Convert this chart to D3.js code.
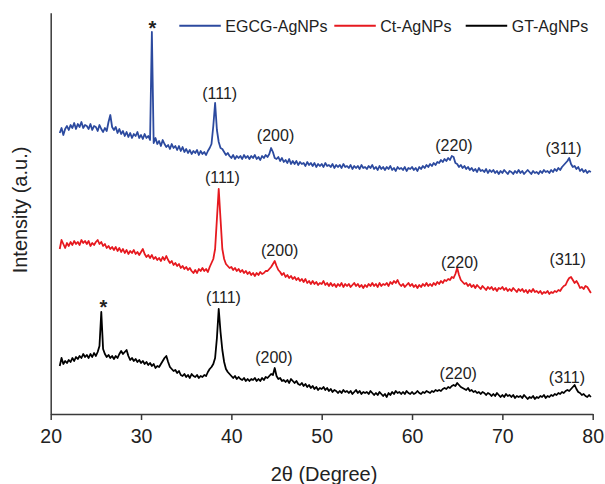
<!DOCTYPE html>
<html>
<head>
<meta charset="utf-8">
<script src="https://cdn.jsdelivr.net/npm/d3@7"></script>
<style>
  body { margin: 0; background: #fff; }
  svg { display: block; font-family: "Liberation Sans", Arial, Helvetica, sans-serif; }
</style>
</head>
<body>
<svg id="chart" width="605" height="484"></svg>
<script>
// XRD scans: intensities sampled from 21.0° to 79.8° (2θ) in 0.2° steps (stacked, arbitrary units)
const thetaStart = 21.0;
const thetaStep = 0.2;

const egcgIntensity = [
  281,286,279,285,288, 284,289,286,291,285, 290,287,292,286,289, 288,285,290,284,288,
  287,283,289,285,282, 286,283,292,299,287, 284,287,281,285,280, 283,278,282,277,281,
  276,280,278,282,276, 279,275,280,276,278, 274,382,271,276,270, 273,268,274,270,267,
  269,265,270,266,268, 264,268,263,267,262, 265,261,264,260,263, 261,264,259,263,260,
  262,259,263,266,270, 288,311,284,272,266, 265,262,259,261,258, 256,259,255,258,256,
  258,255,259,256,258, 255,258,256,259,255, 257,254,258,256,259, 257,260,266,262,256,
  255,257,253,256,252, 254,251,255,250,253, 250,253,249,252,250, 251,248,252,249,251,
  248,251,247,250,248, 250,247,251,248,249, 247,250,246,249,247, 249,246,250,247,248,
  246,249,245,248,246, 248,245,249,246,247, 245,248,246,249,245, 247,244,248,245,247,
  244,247,245,248,244, 246,243,247,245,246, 244,247,243,246,245, 247,244,246,243,247,
  245,248,246,249,247, 250,248,251,249,252, 251,254,252,255,253, 256,254,258,257,251,
  250,247,249,246,248, 245,247,244,246,243, 245,242,246,243,244, 242,245,241,244,242,
  244,241,243,240,243, 241,244,242,240,243, 242,240,243,241,244, 241,243,240,242,244,
  242,240,243,241,242, 240,243,241,244,242, 243,241,244,242,245, 243,246,244,247,249,
  251,253,256,250,247, 248,245,247,243,245, 242,244,241,243,242
];

const ctIntensity = [
  165,174,170,166,171, 168,172,169,173,170, 172,169,174,171,173, 170,173,168,171,169,
  172,174,170,172,168, 170,166,168,165,167, 164,167,163,166,162, 165,161,164,160,163,
  161,164,160,162,159, 162,165,160,157,159, 156,159,155,157,154, 156,153,157,154,158,
  154,151,153,149,151, 148,150,146,148,145, 147,144,146,143,141, 144,141,145,143,146,
  143,145,142,147,151, 155,165,195,225,195, 165,155,150,148,146, 147,144,146,143,145,
  142,144,141,143,140, 142,139,141,138,141, 139,142,140,141,143, 143,145,147,150,153,
  148,144,142,139,141, 137,139,136,138,135, 137,134,136,133,135, 132,135,131,133,130,
  133,130,132,129,131, 130,133,129,131,128, 131,128,130,127,130, 128,131,127,130,128,
  130,127,129,131,128, 130,127,129,126,129, 127,130,128,131,128, 130,127,131,128,130,
  129,131,128,132,130, 133,131,134,130,128, 130,127,129,131,128, 130,127,129,126,129,
  127,130,128,131,128, 130,128,131,129,132, 130,133,131,134,133, 135,134,137,136,140,
  146,139,134,132,130, 131,128,130,127,129, 126,129,127,125,128, 126,124,127,125,127,
  124,126,123,126,125, 127,124,126,123,125, 123,126,124,122,125, 123,125,122,124,121,
  124,122,125,122,123, 121,123,120,122,121, 123,120,122,121,123, 122,124,123,126,128,
  129,133,136,137,134, 131,133,130,126,127, 125,128,127,124,121
];

const gtIntensity = [
  48,56,50,53,51, 54,52,56,53,57, 55,58,56,60,57, 59,56,60,57,61,
  58,62,68,102,65, 60,57,59,56,58, 55,58,56,60,63, 60,62,64,58,54,
  56,53,55,52,54, 51,53,50,52,49, 51,48,50,46,48, 47,50,53,56,58,
  52,47,45,43,44, 41,43,39,38,40, 37,39,36,40,38, 37,39,36,38,37,
  39,38,42,45,47, 50,56,76,105,82, 64,52,45,42,40, 38,36,38,35,37,
  35,34,36,33,35, 33,35,34,36,33, 35,33,36,34,37, 36,38,40,39,46,
  38,35,36,33,34, 32,34,31,35,33, 31,33,30,29,31, 28,30,27,29,26,
  28,25,27,24,26, 25,27,24,26,23, 25,22,24,23,21, 23,21,24,22,23,
  21,23,20,22,24, 21,23,20,22,21, 22,20,23,21,19, 21,19,22,20,18,
  20,17,21,19,22, 20,23,21,22,20, 22,20,23,21,20, 22,20,21,23,21,
  20,22,21,23,22, 21,23,22,24,23, 24,23,25,26,25, 27,26,28,29,28,
  31,29,27,26,25, 24,26,23,24,22, 23,21,22,20,22, 21,19,21,20,18,
  20,18,21,19,17, 19,17,20,18,19, 17,19,16,18,17, 18,16,19,17,15,
  17,16,18,15,17, 16,18,17,19,16, 18,17,19,18,20, 19,21,20,22,21,
  23,24,23,25,27, 29,25,22,21,19, 20,18,17,19,17
];

const seriesNames = ["EGCG-AgNPs", "Ct-AgNPs", "GT-AgNPs"];
const seriesColors = ["#2c4a9f", "#e6191f", "#000000"];
const xTicks = [20, 30, 40, 50, 60, 70, 80];

// Reflection labels: [text, 2θ, baseline level in a.u.]
const egcgPeaks = [["*", 31.27, 378.7], ["(111)", 38.71, 315], ["(200)", 44.89, 273.3], ["(220)", 64.64, 263.3], ["(311)", 76.77, 260]];
const ctPeaks = [["(111)", 39.01, 231.3], ["(200)", 45.35, 158], ["(220)", 65.28, 146.3], ["(311)", 77.23, 148.7]];
const gtPeaks = [["*", 25.82, 100.3], ["(111)", 39.12, 111.3], ["(200)", 44.71, 50.7], ["(220)", 65.12, 35], ["(311)", 77.15, 31.3]];

const svg = d3.select("#chart");
const axisColor = "#3a3a3a";

const x = d3.scaleLinear().domain([20, 80]).range([50.7, 592.7]);
const y = d3.scaleLinear().domain([0, 401.3]).range([414, 12.7]);

const toPoints = arr => arr.map((v, i) => [thetaStart + i * thetaStep, v]);
const series = [egcgIntensity, ctIntensity, gtIntensity].map(toPoints);
const peakSets = [egcgPeaks, ctPeaks, gtPeaks];

// Axes
const xAxis = d3.axisBottom(x).tickValues(xTicks).tickSize(6).tickSizeOuter(0).tickFormat(d3.format("d"));
const gx = svg.append("g").attr("transform", "translate(0,414)").call(xAxis);
gx.select(".domain").attr("stroke", axisColor).attr("stroke-width", 1.5);
gx.selectAll(".tick line").attr("stroke", axisColor).attr("stroke-width", 1.5);
gx.selectAll(".tick text")
  .attr("y", 28.7).attr("dy", null)
  .attr("fill", "#222").style("font-size", "19.5px")
  .style("font-family", "'Liberation Sans', Arial, sans-serif");

const yAxis = d3.axisLeft(y).tickValues([]).tickSizeOuter(0);
const gy = svg.append("g").attr("transform", "translate(50.7,0)").call(yAxis);
gy.select(".domain").attr("stroke", axisColor).attr("stroke-width", 1.5);

// Axis titles
svg.append("text")
  .attr("x", 324).attr("y", 481.3)
  .attr("text-anchor", "middle").attr("fill", "#222")
  .style("font-size", "20px")
  .text("2θ (Degree)");

svg.append("text")
  .attr("transform", "translate(26.7,210) rotate(-90)")
  .attr("text-anchor", "middle").attr("fill", "#222")
  .style("font-size", "20px")
  .text("Intensity (a.u.)");

// Diffraction patterns
const line = d3.line().x(d => x(d[0])).y(d => y(d[1]));
series.forEach((pts, i) => {
  svg.append("path")
    .datum(pts)
    .attr("fill", "none")
    .attr("stroke", seriesColors[i])
    .attr("stroke-width", 1.8)
    .attr("stroke-linejoin", "round")
    .attr("d", line);
});

// Reflection annotations
peakSets.forEach(set => {
  svg.append("g").selectAll("text")
    .data(set)
    .join("text")
    .attr("x", d => x(d[1]))
    .attr("y", d => y(d[2]))
    .attr("text-anchor", "middle")
    .attr("fill", "#222")
    .style("font-size", d => d[0] === "*" ? "20px" : "16px")
    .style("font-weight", d => d[0] === "*" ? "bold" : "normal")
    .text(d => d[0]);
});

// Legend
const legendX = [179.3, 334.3, 465.7];
const legend = svg.append("g");
seriesNames.forEach((name, i) => {
  legend.append("line")
    .attr("x1", legendX[i]).attr("x2", legendX[i] + 41.5)
    .attr("y1", 25.7).attr("y2", 25.7)
    .attr("stroke", seriesColors[i]).attr("stroke-width", 2);
  legend.append("text")
    .attr("x", legendX[i] + 46).attr("y", 31.7)
    .attr("fill", "#222")
    .style("font-size", "16px")
    .text(name);
});
</script>
</body>
</html>
